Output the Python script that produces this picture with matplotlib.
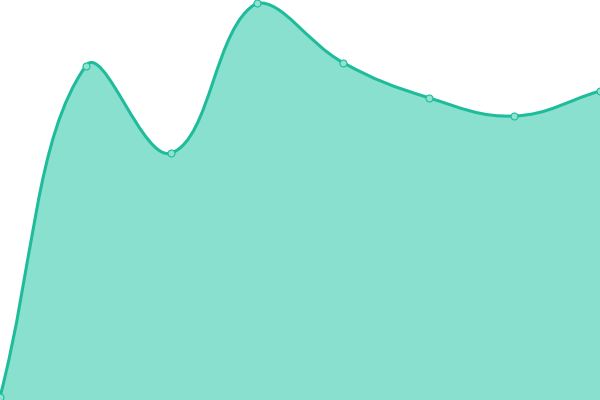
import numpy as np
import matplotlib
matplotlib.use("Agg")
import matplotlib.pyplot as plt
from matplotlib.path import Path
from matplotlib.patches import PathPatch

categories = ["A", "B", "C", "D", "E", "F", "G", "H"]
values = [3, 334, 247, 397, 337.5, 302.3, 284, 309]

W, H = 600, 400
fig = plt.figure(figsize=(6, 4), dpi=100)
ax = fig.add_axes([0, 0, 1, 1])
ax.set_xlim(0, len(categories) - 1)
ax.set_ylim(0, 400)
ax.axis("off")

xs = np.arange(len(categories), dtype=float)
ys = np.array(values, dtype=float)

# work in pixel space (like Chart.js) then convert back
def to_px(x, y):
    return ax.transData.transform(np.column_stack([x, y]))

fig.canvas.draw()
px = to_px(xs, ys)
t = 0.4
n = len(px)
cp_prev = np.zeros_like(px)
cp_next = np.zeros_like(px)
bbox = ax.bbox
for i in range(n):
    cur = px[i]
    prev = px[i - 1] if i > 0 else cur
    nxt = px[i + 1] if i < n - 1 else cur
    d01 = np.hypot(*(cur - prev))
    d12 = np.hypot(*(nxt - cur))
    tot = d01 + d12
    s01 = d01 / tot if tot else 0
    s12 = d12 / tot if tot else 0
    fa, fb = t * s01, t * s12
    cp_prev[i] = cur - fa * (nxt - prev)
    cp_next[i] = cur + fb * (nxt - prev)
    for cp in (cp_prev[i], cp_next[i]):
        cp[0] = min(max(cp[0], bbox.x0), bbox.x1)
        cp[1] = min(max(cp[1], bbox.y0), bbox.y1)

inv = ax.transData.inverted()
P = inv.transform(px)
CP = inv.transform(cp_prev)
CN = inv.transform(cp_next)

verts = [tuple(P[0])]
codes = [Path.MOVETO]
for i in range(1, n):
    verts += [tuple(CN[i - 1]), tuple(CP[i]), tuple(P[i])]
    codes += [Path.CURVE4] * 3

fill_verts = verts + [(xs[-1], 0), (xs[0], 0), (xs[0], ys[0])]
fill_codes = codes + [Path.LINETO, Path.LINETO, Path.CLOSEPOLY]

line_color = "#1fbc9c"
fill_color = "#89e0cf"
ax.add_patch(PathPatch(Path(fill_verts, fill_codes), facecolor=fill_color, edgecolor="none"))
ax.add_patch(PathPatch(Path(verts, codes), facecolor="none", edgecolor=line_color, linewidth=2.2))
ax.plot(xs, ys, "o", markersize=5, markerfacecolor="#8fe3d2", markeredgecolor=line_color,
        markeredgewidth=0.8, clip_on=False, zorder=5)

fig.savefig("out.png", dpi=100)
